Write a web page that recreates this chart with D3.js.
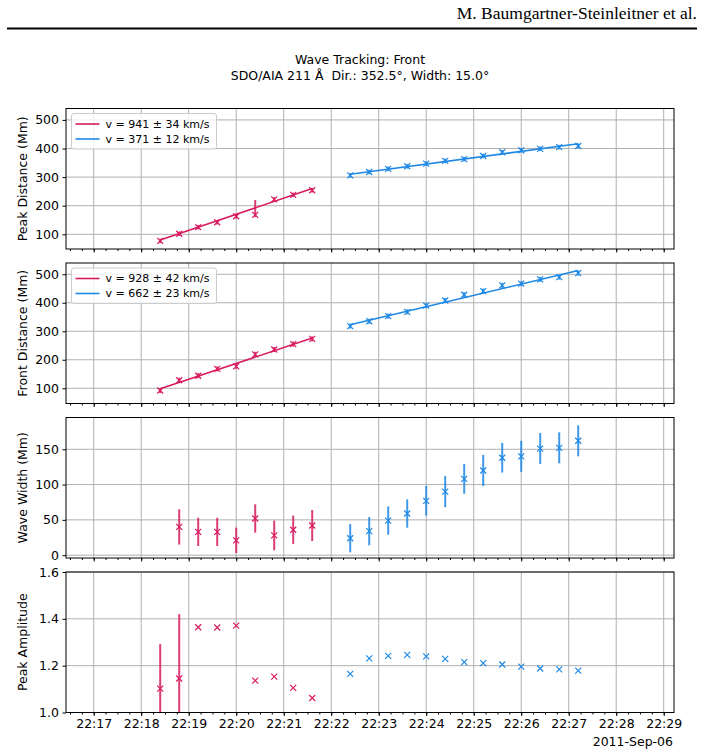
<!DOCTYPE html>
<html>
<head>
<meta charset="utf-8">
<script src="https://cdn.jsdelivr.net/npm/d3@7"></script>
<style>
body { margin: 0; background: #fff; }
text { font-family: "DejaVu Sans", sans-serif; }
</style>
</head>
<body>
<div id="svg_area"></div>
<script>
// times of the two wave fronts (UT, 2011-09-06)
var redTimes = ["22:18:24","22:18:48","22:19:12","22:19:36","22:20:00","22:20:24","22:20:48","22:21:12","22:21:36"];
var blueTimes = ["22:22:24","22:22:48","22:23:12","22:23:36","22:24:00","22:24:24","22:24:48","22:25:12","22:25:36","22:26:00","22:26:24","22:26:48","22:27:12"];
var tickTimes = ["22:17","22:18","22:19","22:20","22:21","22:22","22:23","22:24","22:25","22:26","22:27","22:28","22:29"];

// peak distance (Mm)
var peakRed = [77, 102, 125, 142, 163, 168, 222, 238, 254];
var peakRedErrLo = [8, 8, 8, 8, 8, 8, 8, 8, 8];
var peakRedErrHi = [8, 8, 8, 8, 8, 52, 8, 8, 8];
var peakBlue = [306, 318, 329, 338, 347, 357, 363, 374, 387, 394, 399, 405, 409];
var peakBlueErr = [8, 8, 8, 8, 8, 8, 8, 8, 8, 8, 8, 8, 8];
var peakRedFit = [80, 260];
var peakBlueFit = [310, 417];
var peakLegend = ["v = 941 \u00b1 34 km/s", "v = 371 \u00b1 12 km/s"];

// front distance (Mm)
var frontRed = [92, 128, 144, 168, 177, 219, 236, 255, 273];
var frontRedErr = [9, 9, 9, 9, 9, 9, 9, 9, 9];
var frontBlue = [318, 335, 353, 368, 390, 408, 428, 441, 461, 467, 482, 490, 504];
var frontBlueErr = [9, 9, 9, 9, 9, 9, 9, 9, 9, 9, 9, 9, 9];
var frontRedFit = [98, 276];
var frontBlueFit = [323, 513];
var frontLegend = ["v = 928 \u00b1 42 km/s", "v = 662 \u00b1 23 km/s"];

// wave width (Mm)
var widthRed = [null, 40, 33, 33, 21, 52, 28, 36, 42];
var widthRedErr = [null, 25, 20, 20, 18, 20, 21, 20, 22];
var widthBlue = [24, 34, 49, 59, 77, 90, 108, 120, 138, 140, 151, 152, 162];
var widthBlueErr = [20, 20, 20, 20, 21, 22, 21, 22, 21, 22, 22, 22, 22];

// peak amplitude
var ampRed = [1.102, 1.145, 1.364, 1.363, 1.371, 1.136, 1.153, 1.105, 1.062];
var ampRedErr = [0.19, 0.275, 0, 0, 0, 0, 0, 0, 0];
var ampBlue = [1.165, 1.231, 1.242, 1.246, 1.240, 1.229, 1.215, 1.211, 1.205, 1.196, 1.188, 1.184, 1.179];
var ampBlueErr = [0, 0, 0, 0, 0, 0, 0, 0, 0, 0, 0, 0, 0];

var RED = "#d81b60", BLUE = "#1e88e5";

var parseTime = d3.utcParse("%Y-%m-%d %H:%M:%S");
function t(s) { if (s.length == 5) s = s + ":00"; return parseTime("2011-09-06 " + s); }

var svg = d3.select('#svg_area').append("svg").attr("width", 705).attr("height", 755);

// page header
svg.append("text")
  .attr("x", 697).attr("y", 19)
  .attr("text-anchor", "end")
  .style("font-family", "'Liberation Serif', serif")
  .style("font-size", "17.5px")
  .text("M. Baumgartner-Steinleitner et al.");
svg.append("line")
  .attr("x1", 7).attr("x2", 697).attr("y1", 28.5).attr("y2", 28.5)
  .attr("stroke", "#000").attr("stroke-width", 2);

// title
svg.append("text").attr("x", 360).attr("y", 64).attr("text-anchor", "middle")
  .style("font-size", "12.5px").text("Wave Tracking: Front");
svg.append("text").attr("x", 360).attr("y", 80).attr("text-anchor", "middle")
  .style("font-size", "12.5px").style("white-space", "pre")
  .text("SDO/AIA 211 \u00c5  Dir.: 352.5\u00b0, Width: 15.0\u00b0");

var left = 66, right = 674, panelH = 140.5;
var x = d3.scaleUtc().domain([t("22:16:25"), t("22:29:13")]).range([left, right]);

var panels = [
  { top: 108.5, domain: [48.6, 540], ticks: [100, 200, 300, 400, 500], fmt: d3.format("d"), label: "Peak Distance (Mm)",
    red: peakRed, redLo: peakRedErrLo, redHi: peakRedErrHi, blue: peakBlue, blueErr: peakBlueErr,
    redFit: peakRedFit, blueFit: peakBlueFit, legend: peakLegend },
  { top: 263, domain: [46.5, 539.5], ticks: [100, 200, 300, 400, 500], fmt: d3.format("d"), label: "Front Distance (Mm)",
    red: frontRed, redLo: frontRedErr, redHi: frontRedErr, blue: frontBlue, blueErr: frontBlueErr,
    redFit: frontRedFit, blueFit: frontBlueFit, legend: frontLegend },
  { top: 417.5, domain: [-4, 195], ticks: [0, 50, 100, 150], fmt: d3.format("d"), label: "Wave Width (Mm)",
    red: widthRed, redLo: widthRedErr, redHi: widthRedErr, blue: widthBlue, blueErr: widthBlueErr },
  { top: 572, domain: [1.0, 1.6], ticks: [1.0, 1.2, 1.4, 1.6], fmt: d3.format(".1f"), label: "Peak Amplitude",
    red: ampRed, redLo: ampRedErr, redHi: ampRedErr, blue: ampBlue, blueErr: ampBlueErr, last: true }
];

var xMark = "M-3,-3L3,3M-3,3L3,-3";

panels.forEach(function(p, i) {
  var y = d3.scaleLinear().domain(p.domain).range([p.top + panelH, p.top]);
  var g = svg.append("g");

  svg.append("clipPath").attr("id", "clip" + i)
    .append("rect").attr("x", left).attr("y", p.top).attr("width", right - left).attr("height", panelH);

  // grid
  g.append("g").selectAll("line").data(tickTimes).enter().append("line")
    .attr("x1", function(d) { return x(t(d)); }).attr("x2", function(d) { return x(t(d)); })
    .attr("y1", p.top).attr("y2", p.top + panelH)
    .attr("stroke", "#b0b0b0").attr("stroke-width", 1);
  g.append("g").selectAll("line").data(p.ticks).enter().append("line")
    .attr("x1", left).attr("x2", right)
    .attr("y1", function(d) { return y(d); }).attr("y2", function(d) { return y(d); })
    .attr("stroke", "#b0b0b0").attr("stroke-width", 1);

  var plot = g.append("g").attr("clip-path", "url(#clip" + i + ")");

  var series = [
    { times: redTimes, vals: p.red, lo: p.redLo, hi: p.redHi, fit: p.redFit, color: RED },
    { times: blueTimes, vals: p.blue, lo: p.blueErr, hi: p.blueErr, fit: p.blueFit, color: BLUE }
  ];

  series.forEach(function(s) {
    var pts = s.times.map(function(tm, k) {
      return { date: t(tm), v: s.vals[k], lo: s.lo[k], hi: s.hi[k] };
    }).filter(function(d) { return d.v != null; });

    if (s.fit) {
      var fitPts = [{ date: t(s.times[0]), v: s.fit[0] }, { date: t(s.times[s.times.length - 1]), v: s.fit[1] }];
      plot.append("path").datum(fitPts)
        .attr("fill", "none").attr("stroke", s.color).attr("stroke-width", 1.6)
        .attr("d", d3.line().x(function(d) { return x(d.date); }).y(function(d) { return y(d.v); }));
    }

    plot.append("g").selectAll("line").data(pts.filter(function(d) { return d.lo > 0 || d.hi > 0; }))
      .enter().append("line")
      .attr("x1", function(d) { return x(d.date); }).attr("x2", function(d) { return x(d.date); })
      .attr("y1", function(d) { return y(d.v - d.lo); }).attr("y2", function(d) { return y(d.v + d.hi); })
      .attr("stroke", s.color).attr("stroke-width", 2).attr("opacity", 0.85);

    plot.append("g").selectAll("path").data(pts).enter().append("path")
      .attr("transform", function(d) { return "translate(" + x(d.date) + "," + y(d.v) + ")"; })
      .attr("d", xMark)
      .attr("fill", "none").attr("stroke", s.color).attr("stroke-width", 1.2);
  });

  // frame
  g.append("rect").attr("x", left).attr("y", p.top).attr("width", right - left).attr("height", panelH)
    .attr("fill", "none").attr("stroke", "#000").attr("stroke-width", 1);

  // y axis
  var ya = g.append("g").attr("transform", "translate(" + left + ",0)")
    .call(d3.axisLeft(y).tickValues(p.ticks).tickFormat(p.fmt).tickSize(3.5).tickPadding(3.5));
  ya.select(".domain").remove();
  ya.selectAll("text").style("font-size", "12.5px").style("font-family", "'DejaVu Sans', sans-serif");

  g.append("text")
    .attr("transform", "translate(22.5," + (p.top + panelH / 2) + ") rotate(-90)")
    .attr("text-anchor", "middle").attr("dy", "0.35em")
    .style("font-size", "12.5px")
    .text(p.label);

  // x axis, major and minor ticks
  var xa = g.append("g").attr("transform", "translate(0," + (p.top + panelH) + ")")
    .call(d3.axisBottom(x).ticks(d3.utcMinute.every(1)).tickSize(3.5).tickPadding(3.5)
      .tickFormat(p.last ? d3.utcFormat("%H:%M") : ""));
  xa.select(".domain").remove();
  xa.selectAll("text").style("font-size", "12.5px").style("font-family", "'DejaVu Sans', sans-serif");
  var xm = g.append("g").attr("transform", "translate(0," + (p.top + panelH) + ")")
    .call(d3.axisBottom(x).ticks(d3.utcSecond.every(15)).tickSize(2).tickFormat(""));
  xm.select(".domain").remove();

  // legend
  if (p.legend) {
    var lg = g.append("g").attr("transform", "translate(71.5," + (p.top + 5) + ")");
    lg.append("rect").attr("width", 145).attr("height", 35.5).attr("rx", 2.5)
      .attr("fill", "#fff").attr("fill-opacity", 0.8).attr("stroke", "#cccccc").attr("stroke-width", 1);
    [RED, BLUE].forEach(function(c, k) {
      lg.append("line").attr("x1", 4).attr("x2", 28).attr("y1", 10.5 + k * 15).attr("y2", 10.5 + k * 15)
        .attr("stroke", c).attr("stroke-width", 1.6);
      lg.append("text").attr("x", 34).attr("y", 10.5 + k * 15).attr("dy", "0.35em")
        .style("font-size", "11px").text(p.legend[k]);
    });
  }
});

svg.append("text").attr("x", 673).attr("y", 746).attr("text-anchor", "end")
  .style("font-size", "12.5px").text("2011-Sep-06");
</script>
</body>
</html>
